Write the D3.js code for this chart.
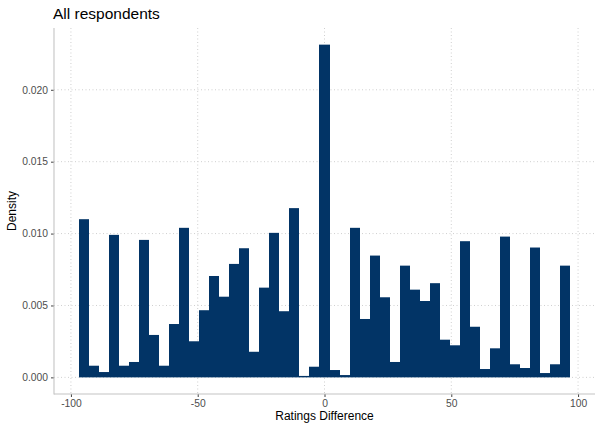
<!DOCTYPE html>
<html>
<head>
<meta charset="utf-8">
<script src="https://cdn.jsdelivr.net/npm/d3@7"></script>
<style>
  body { margin: 0; background: #ffffff; }
  svg { display: block; font-family: "Liberation Sans", Arial, Helvetica, sans-serif; }
</style>
</head>
<body>
<svg id="chart" width="602" height="430"></svg>
<script>
// ---- data ----
const binCenters = [
  -95.00, -91.04, -87.08, -83.13, -79.17, -75.21, -71.25, -67.29, -63.33, -59.38,
  -55.42, -51.46, -47.50, -43.54, -39.58, -35.63, -31.67, -27.71, -23.75, -19.79,
  -15.83, -11.88, -7.92, -3.96, 0.00, 3.96, 7.92, 11.88, 15.83, 19.79,
  23.75, 27.71, 31.67, 35.63, 39.58, 43.54, 47.50, 51.46, 55.42, 59.38,
  63.33, 67.29, 71.25, 75.21, 79.17, 83.13, 87.08, 91.04, 95.00
];
const binWidth = 3.9583;
const densities = [
  0.0110, 0.00081, 0.00037, 0.00991, 0.00081, 0.00107, 0.00956, 0.00295, 0.00081, 0.00371,
  0.0104, 0.00251, 0.00467, 0.00705, 0.00561, 0.00789, 0.00898, 0.00178, 0.00624, 0.01005,
  0.0046, 0.01177, 0.0001, 0.00074, 0.02314, 0.00051, 0.00016, 0.0104, 0.00406, 0.00847,
  0.00557, 0.00107, 0.00777, 0.0061, 0.00531, 0.00655, 0.00262, 0.00223, 0.00947, 0.00352,
  0.00058, 0.00202, 0.00979, 0.00091, 0.00065, 0.00903, 0.0003, 0.00091, 0.00777
];
const xTicks = [-100, -50, 0, 50, 100];
const yTicks = [0, 0.005, 0.010, 0.015, 0.020];
const titleText = "All respondents";
const xLabel = "Ratings Difference";
const yLabel = "Density";

// ---- layout ----
const panel = { left: 54, right: 595, top: 28, bottom: 394 };
const svg = d3.select("#chart");

const xMin = binCenters[0] - binWidth / 2;
const xMax = binCenters[binCenters.length - 1] + binWidth / 2;
const xPad = (xMax - xMin) * 0.05;
const yMaxData = d3.max(densities);
const yPad = yMaxData * 0.05;

const x = d3.scaleLinear().domain([xMin - xPad, xMax + xPad]).range([panel.left, panel.right]);
const y = d3.scaleLinear().domain([-yPad, yMaxData + yPad]).range([panel.bottom, panel.top]);

// gridlines
const grid = svg.append("g");
grid.selectAll("line.gx").data(xTicks).join("line")
  .attr("x1", d => x(d)).attr("x2", d => x(d))
  .attr("y1", panel.top).attr("y2", panel.bottom)
  .attr("stroke", "#cfcfcf").attr("stroke-width", 1).attr("stroke-dasharray", "1,2.5");
grid.selectAll("line.gy").data(yTicks).join("line")
  .attr("x1", panel.left).attr("x2", panel.right)
  .attr("y1", d => y(d)).attr("y2", d => y(d))
  .attr("stroke", "#cfcfcf").attr("stroke-width", 1).attr("stroke-dasharray", "1,2.5");

// bars (drawn as one path per bar, with edges snapped so neighbours touch)
const snap = v => Math.round(v);
svg.append("g").selectAll("rect").data(binCenters).join("rect")
  .attr("x", d => snap(x(d - binWidth / 2)))
  .attr("width", d => snap(x(d + binWidth / 2)) - snap(x(d - binWidth / 2)))
  .attr("y", (d, i) => y(densities[i]))
  .attr("height", (d, i) => y(0) - y(densities[i]))
  .attr("fill", "#023466");

// axes
const xAxis = d3.axisBottom(x).tickValues(xTicks).tickSize(3).tickPadding(3)
  .tickFormat(d3.format("d"));
const gx = svg.append("g").attr("transform", `translate(0,${panel.bottom})`).call(xAxis);
gx.select(".domain").remove();
gx.selectAll(".tick line").attr("stroke", "#444");
gx.selectAll(".tick text").attr("fill", "#4d4d4d").attr("font-size", "10.3px")
  .attr("font-family", "Liberation Sans, Arial, sans-serif")
  .text(d => d < 0 ? "-" + Math.abs(d) : d);

const yAxis = d3.axisLeft(y).tickValues(yTicks).tickSize(3).tickPadding(3)
  .tickFormat(d3.format(".3f"));
const gy = svg.append("g").attr("transform", `translate(${panel.left},0)`).call(yAxis);
gy.select(".domain").remove();
gy.selectAll(".tick line").attr("stroke", "#444");
gy.selectAll(".tick text").attr("fill", "#4d4d4d").attr("font-size", "10.3px")
  .attr("font-family", "Liberation Sans, Arial, sans-serif");

// axis lines
svg.append("line").attr("x1", panel.left).attr("x2", panel.left)
  .attr("y1", panel.top).attr("y2", panel.bottom + 0.5)
  .attr("stroke", "#c4c4c4").attr("stroke-width", 1.1);
svg.append("line").attr("x1", panel.left).attr("x2", panel.right)
  .attr("y1", panel.bottom).attr("y2", panel.bottom)
  .attr("stroke", "#c4c4c4").attr("stroke-width", 1.1);

// titles
svg.append("text").attr("x", panel.left - 1).attr("y", 19)
  .attr("font-size", "15.5px").attr("fill", "#000").text(titleText);
svg.append("text").attr("x", (panel.left + panel.right) / 2).attr("y", 420)
  .attr("text-anchor", "middle").attr("font-size", "12px").attr("fill", "#000").text(xLabel);
svg.append("text")
  .attr("transform", `translate(15.5,${(panel.top + panel.bottom) / 2}) rotate(-90)`)
  .attr("text-anchor", "middle").attr("font-size", "12px").attr("fill", "#000").text(yLabel);
</script>
</body>
</html>
